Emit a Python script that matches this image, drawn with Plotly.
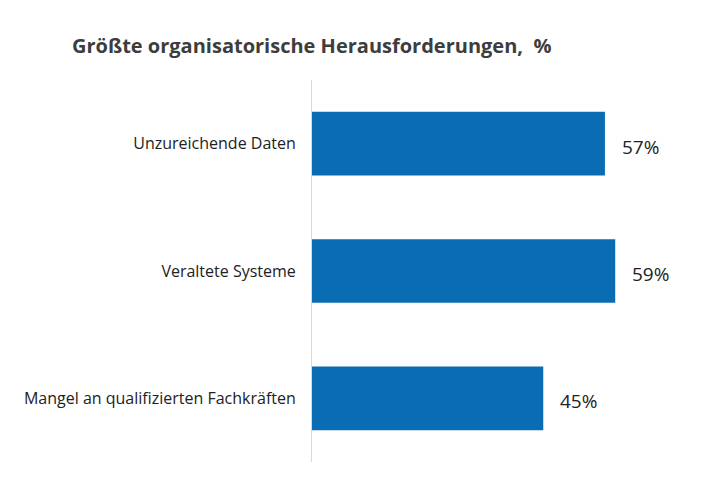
import plotly.graph_objects as go

kategorien = ["Unzureichende Daten", "Veraltete Systeme", "Mangel an qualifizierten Fachkräften"]
werte = [57, 59, 45]
beschriftung = [f"{w}%" for w in werte]

fig = go.Figure()

fig.add_trace(go.Bar(
    y=kategorien,
    x=werte,
    orientation="h",
    width=0.5,
    marker=dict(color="#0a6db3", line=dict(width=0)),
    hoverinfo="skip",
))

# Prozentwerte rechts neben den Balken
for k, w, t in zip(kategorien, werte, beschriftung):
    fig.add_annotation(
        x=w, y=k, text=t, xanchor="left", xshift=15, yshift=-3,
        showarrow=False, font=dict(size=19, color="#222222"),
    )

# die Seite hat 8px Rand, daher alles um 8px verschoben
fig.update_layout(
    width=710, height=477,
    margin=dict(l=304, r=18, t=72, b=23, autoexpand=False),
    paper_bgcolor="white",
    plot_bgcolor="white",
    font=dict(family="Open Sans, Noto Sans, sans-serif", color="#222222"),
    title=dict(
        text="<b>Größte organisatorische Herausforderungen,  %</b>",
        x=64 / 710, xanchor="left", xref="container",
        y=1 - 38 / 477, yanchor="middle", yref="container",
        font=dict(size=20, color="#3d3d3d"),
    ),
    showlegend=False,
    xaxis=dict(range=[0, 75.5], visible=False, fixedrange=True),
    yaxis=dict(
        autorange="reversed", automargin=False,
        showline=True, linecolor="#d9d9d9", linewidth=1,
        ticks="", ticklabelstandoff=12,
        tickfont=dict(size=16, color="#222222"),
        showgrid=False, zeroline=False,
    ),
)

fig.write_html("out.html")
